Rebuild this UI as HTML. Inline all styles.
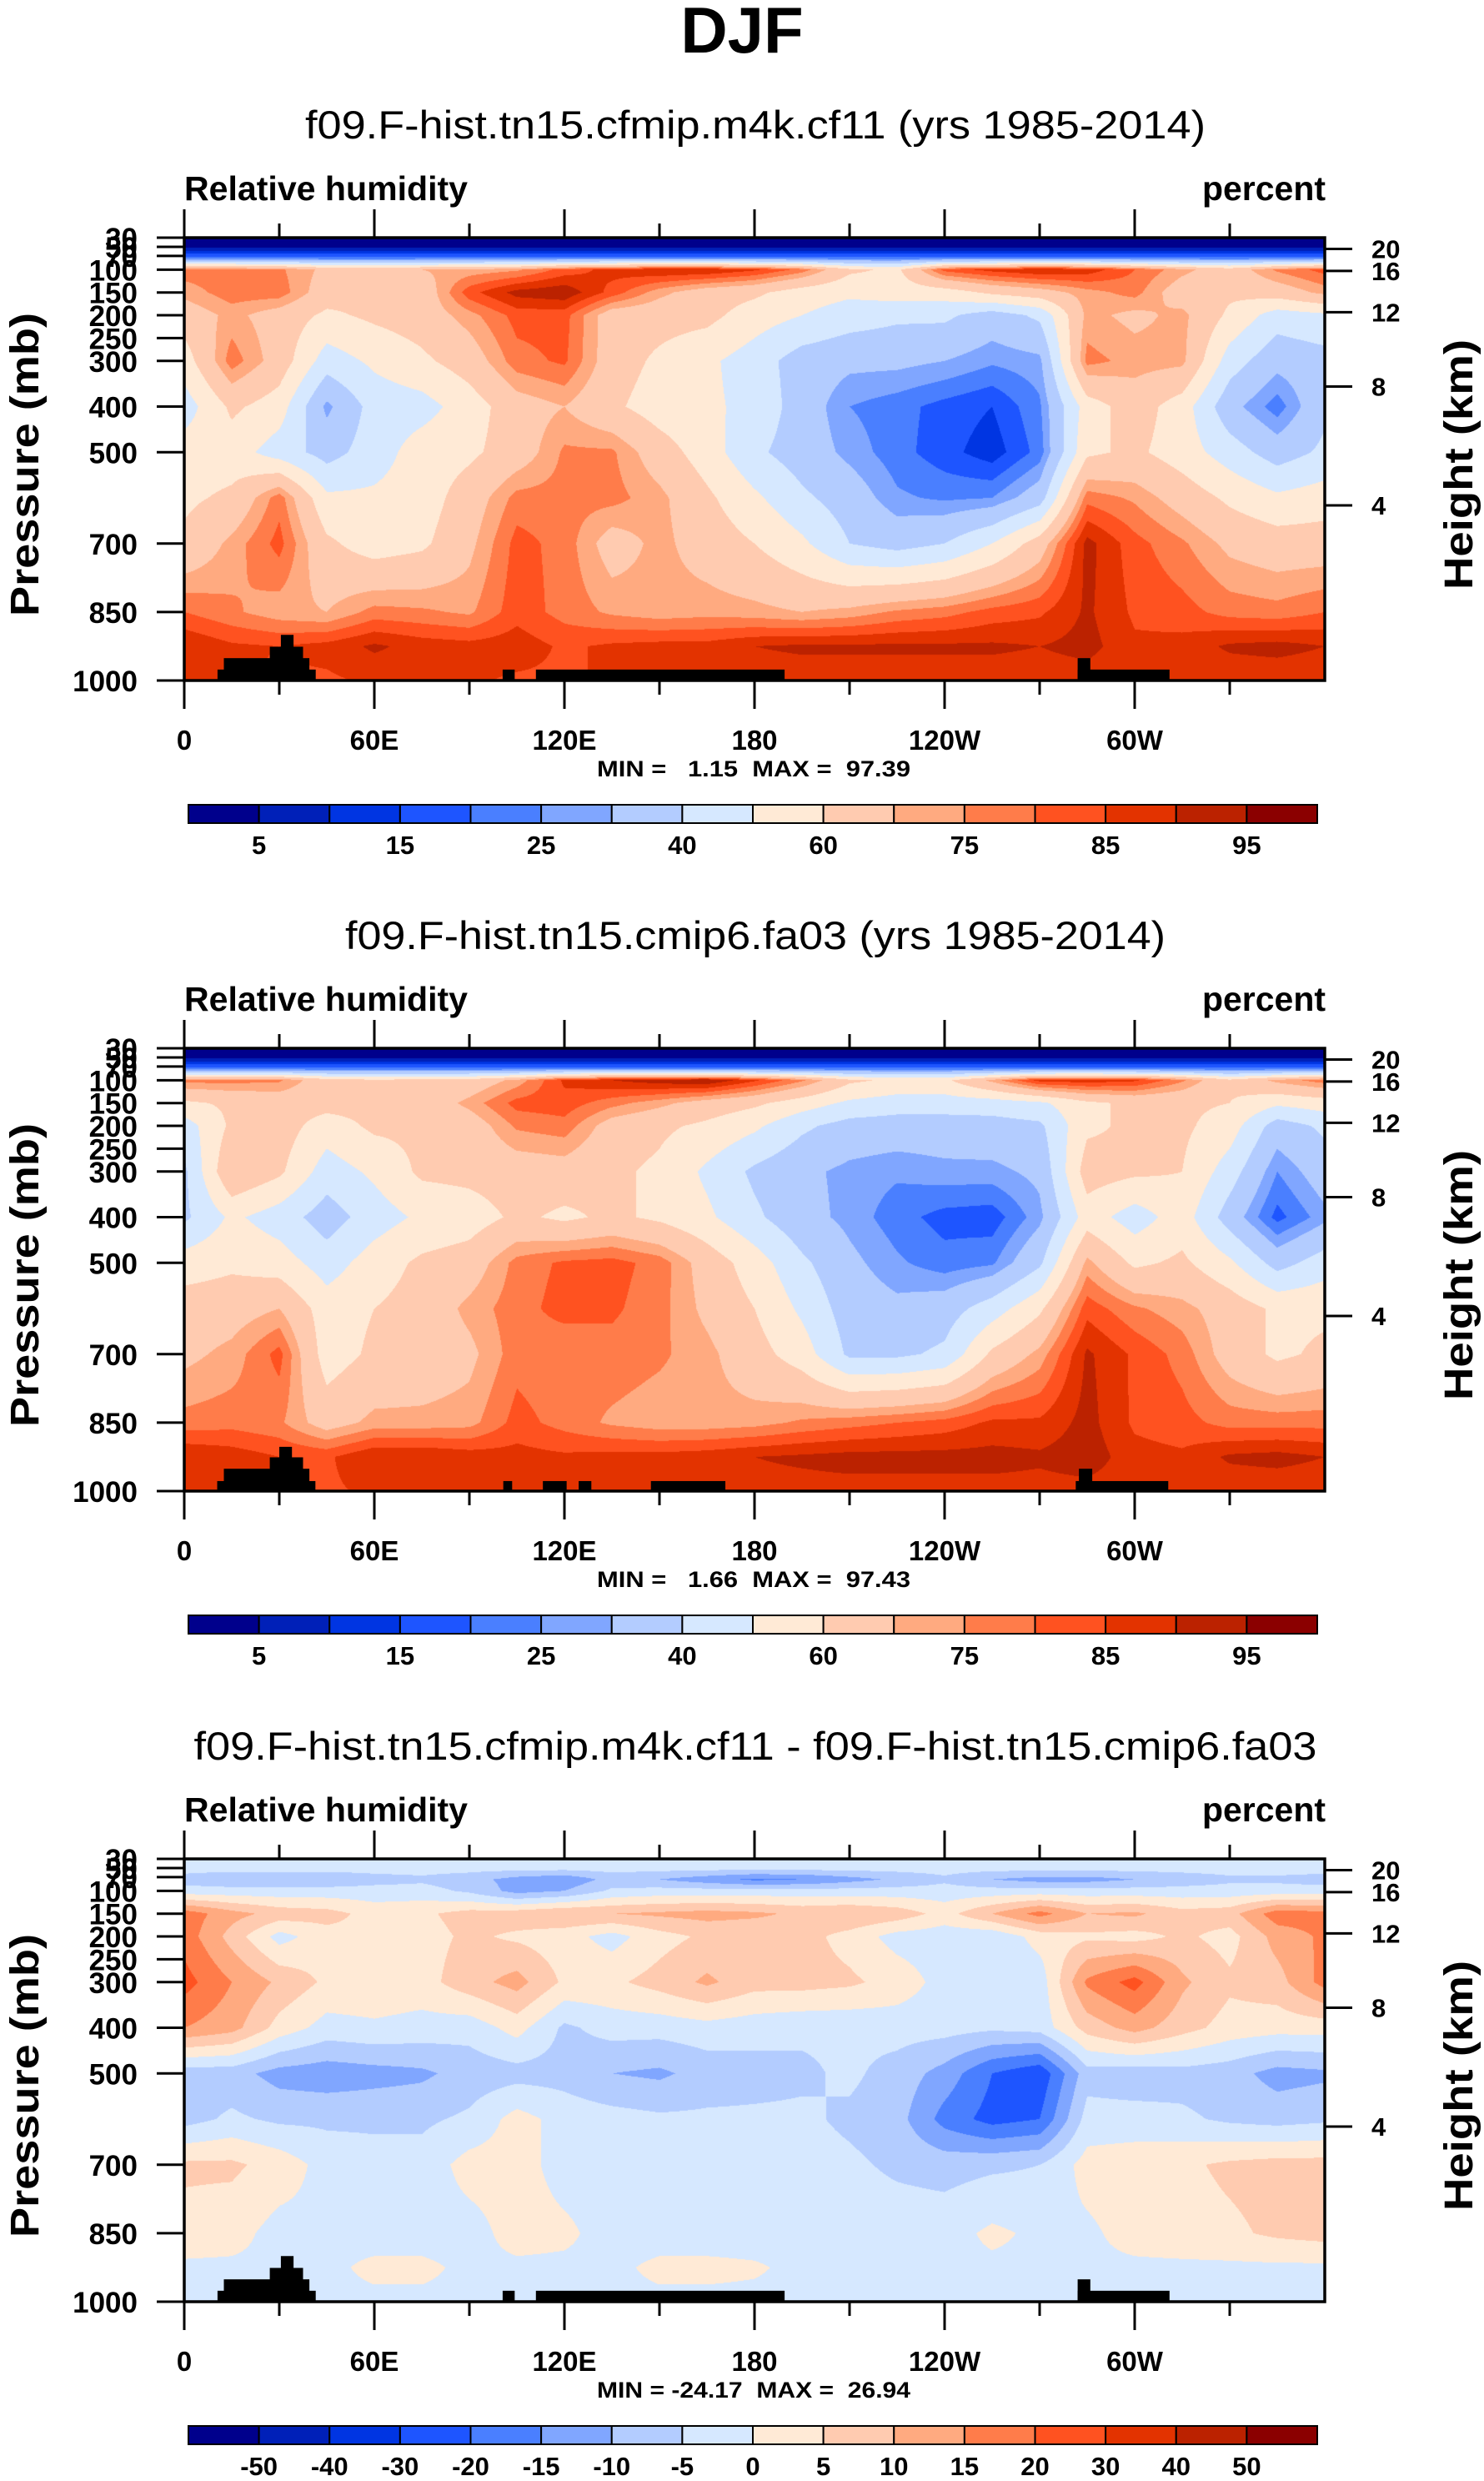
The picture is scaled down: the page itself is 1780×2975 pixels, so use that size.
<!DOCTYPE html>
<html><head><meta charset="utf-8"><title>DJF Relative humidity</title>
<style>
html,body{margin:0;padding:0;background:#fff;}
#wrap{position:relative;width:1780px;height:2975px;overflow:hidden;background:#fff;}
canvas{position:absolute;}
svg{position:absolute;left:0;top:0;}
text{font-family:"Liberation Sans",Arial,sans-serif;fill:#000;}
.b{font-weight:bold;}
</style></head>
<body>
<div id="wrap">
<canvas id="c0" width="1368" height="531" style="left:221px;top:285px"></canvas>
<canvas id="c1" width="1368" height="531" style="left:221px;top:1257px"></canvas>
<canvas id="c2" width="1368" height="531" style="left:221px;top:2229px"></canvas>
<svg id="svg" width="1780" height="2975" xmlns="http://www.w3.org/2000/svg">
<text x="890" y="63" text-anchor="middle" class="b" font-size="78">DJF</text>
</svg>
</div>
<script>
// ---- data ----
const lons = [0,15,30,45,60,75,90,105,120,135,150,165,180,195,210,225,240,255,270,285,300,315,330,345,360];
const plev = [30,50,75,100,150,200,300,400,500,600,700,850,925,1000];
const rhLevels = [5,10,15,20,25,30,40,50,60,70,75,80,85,90,95];
const rhTickLabels = ["5","15","25","40","60","75","85","95"];
const diffLevels = [-50,-40,-30,-20,-15,-10,-5,0,5,10,15,20,30,40,50];
const diffTickLabels = ["-50","-40","-30","-20","-15","-10","-5","0","5","10","15","20","30","40","50"];
const colors = ["#00008c","#0020b8","#0035e2","#1e55ff","#4a7fff","#80a6ff","#b3ccff","#d6e8ff","#ffead6","#ffcbb0","#ffaa80","#ff7c4a","#ff5220","#e33300","#bb2200","#8b0000"];
const pTicks = [30,50,70,100,150,200,250,300,400,500,700,850,1000];
const kmTicks = [20,16,12,8,4];
const lonTicks = [0,60,120,180,240,300];
const lonTickLabels = ["0","60E","120E","180","120W","60W"];

const rh1 = [
[1,1,1,1,1,1,1,1,1,1,1,1,1,1,1,1,1,1,1,1,1,1,1,1,1],
[4,4,4,4,4,4,4,4,4,4,4,4,4,4,4,4,4,4,4,4,4,4,4,4,4],
[22,22,22,22,22,22,22,22,22,22,22,22,22,22,22,22,22,22,22,22,22,22,22,22,22],
[78,78,76,68,66,70,72,74,82,87,90,90,86,78,62,58,82,87,90,88,80,72,65,76,82],
[72,78,78,65,62,64,83,92,94,83,72,65,62,55,52,55,55,62,66,73,77,65,62,65,72],
[65,72,66,58,62,65,73,82,82,65,64,63,55,50,45,42,42,35,42,72,68,72,58,45,48],
[55,78,66,45,52,58,65,78,81,65,58,52,45,35,32,32,30,26,28,77,73,72,45,33,36],
[45,62,55,28,44,46,55,66,70,62,55,52,47,35,25,22,18,15,24,55,65,55,33,22,38],
[55,55,45,36,45,55,58,65,76,76,65,55,42,35,28,22,17,12,22,58,62,55,45,35,42],
[58,62,78,52,52,55,65,77,77,77,72,62,52,42,35,26,24,25,35,78,74,66,58,52,55],
[62,72,82,62,55,58,68,82,78,66,72,66,60,52,40,36,40,50,65,92,82,76,68,65,65],
[80,76,72,70,77,76,74,83,78,74,72,73,72,70,72,76,78,82,84,91,84,82,78,77,80],
[90,86,85,87,91,88,87,88,84,86,87,87,90,91,91,91,91,91,90,92,86,87,91,92,90],
[86,86,84,84,86,86,86,84,84,86,86,86,87,87,87,87,87,87,87,87,86,86,86,86,86]];

const rh2 = [
[1,1,1,1,1,1,1,1,1,1,1,1,1,1,1,1,1,1,1,1,1,1,1,1,1],
[4,4,4,4,4,4,4,4,4,4,4,4,4,4,4,4,4,4,4,4,4,4,4,4,4],
[22,22,22,22,22,22,22,22,22,22,22,22,22,22,22,22,22,22,22,22,22,22,22,22,22],
[77,77,76,64,62,63,64,72,86,90,93,95,86,76,62,58,58,72,87,88,86,76,62,72,78],
[58,62,64,64,63,64,72,82,83,77,72,66,62,55,48,45,45,45,48,58,62,62,60,52,55],
[45,62,65,55,62,62,65,76,78,66,62,58,52,42,36,35,35,36,38,58,62,62,55,35,42],
[38,70,62,45,52,62,63,65,66,62,58,48,38,32,28,26,28,28,32,65,62,60,45,25,35],
[38,52,45,35,45,52,55,62,58,62,58,52,42,33,28,22,18,17,28,55,45,55,35,18,28],
[55,58,55,45,55,62,65,77,81,82,78,66,55,42,32,26,22,24,38,72,58,62,52,36,45],
[65,66,70,55,60,64,72,78,82,81,77,68,60,48,35,32,35,45,58,83,76,72,66,58,58],
[68,72,82,55,62,64,68,78,76,78,76,72,64,55,38,38,42,62,72,91,84,78,66,58,62],
[77,78,76,66,72,72,73,82,78,74,72,72,73,76,78,80,82,86,86,92,84,82,78,78,78],
[90,88,85,84,90,90,88,87,86,87,87,88,90,91,92,92,92,92,91,93,87,86,91,92,90],
[86,86,84,84,86,86,86,86,87,88,88,88,88,88,88,88,88,88,88,88,87,86,86,86,86]];

const drh = [
[-2,-2,-2,-2,-2,-2,-2,-2,-2,-2,-2,-2,-2,-2,-2,-2,-2,-2,-2,-2,-2,-2,-2,-2,-2],
[-3,-3,-3,-3,-3,-3,-3,-3,-3,-3,-3,-3,-3,-3,-3,-3,-3,-3,-3,-3,-3,-3,-3,-3,-3],
[-7,-9,-9,-9,-7,-6,-8,-12,-14,-8,-10,-13,-16,-15,-12,-9,-6,-10,-12,-12,-10,-8,-6,-6,-7],
[-3,-3,-3,-3,-3,-3,-6,-12,-10,-4,-3,-3,-3,-3,-3,-3,-3,-3,-3,-3,-3,-3,-3,-3,-3],
[18,12,8,7,3,4,7,8,10,10,11,12,11,9,10,8,3,10,17,10,11,7,8,18,17],
[18,8,-2,3,4,3,6,4,2,-2,3,6,6,7,3,-2,-3,-4,2,4,3,6,3,12,16],
[22,15,9,4,4,3,8,12,4,4,7,11,7,7,6,3,-2,-5,-3,16,22,11,6,8,17],
[15,12,3,-2,-1,-2,-3,2,-6,-3,-3,-2,-3,-4,-4,-3,-3,-4,-3,7,12,7,3,2,2],
[-8,-8,-12,-13,-12,-11,-8,-7,-7,-10,-11,-8,-7,-6,-4,-7,-12,-20,-24,-7,-8,-7,-8,-12,-11],
[-7,-4,-6,-6,-6,-6,-4,2,-2,-3,-4,-4,-4,-4,-6,-8,-17,-22,-20,-3,-3,-4,-6,-7,-6],
[6,6,3,-2,-3,-3,2,2,-2,-2,-3,-3,-3,-3,-4,-6,-7,-6,-5,2,3,4,6,7,7],
[3,2,-2,-1,-2,-2,-2,2,1,-2,-2,-2,-2,-2,-2,-2,-2,1,-1,-1,2,3,4,6,7],
[-1,-1,-1,-1,1,1,-1,-1,-1,-1,1,1,0.5,-1,-1,-1,-1,-1,-1,-1,-1,-1,-1,-1,-1],
[-1,-1,-1,-1,-1,-1,-1,-1,-1,-1,-1,-1,-1,-1,-1,-1,-1,-1,-1,-1,-1,-1,-1,-1,-1]];

// topography blocks: [lonStart, lonEnd, pressureTop]
const topoA = [[10.5,41.5,976],[12.5,30,951],[27,37,926],[30.5,34.5,900],[34.5,37.5,926],[34.5,39.5,951],[100.5,104.3,976],[111,189.5,976],[282,311,976],[282,286,951]];
const topoB = [[10.4,41.4,978],[12.5,30,951],[27,37,926],[30,34,903],[34,37.5,926],[34,39.5,951],[100.7,103.5,978],[113.2,120.7,978],[124.5,128.5,978],[147.3,170.8,978],[281.4,310.6,978],[282.4,286.6,951]];

const minmax = ["MIN =   1.15  MAX =  97.39","MIN =   1.66  MAX =  97.43","MIN = -24.17  MAX =  26.94"];
const titles = ["f09.F-hist.tn15.cfmip.m4k.cf11 (yrs 1985-2014)","f09.F-hist.tn15.cmip6.fa03 (yrs 1985-2014)","f09.F-hist.tn15.cfmip.m4k.cf11 - f09.F-hist.tn15.cmip6.fa03"];
const titleLens = [1080,984,1347];

// ---- layout ----
const X0=221, W=1368, H=531, DY=972, TOP0=285;
function xOf(lon){return X0 + lon/360*W;}
function yOf(p,top){return top + (p-30)/970*H;}
function kmToP(z){ z*=1000; if(z<=11000) return 1013.25*Math.pow(1-2.25577e-5*z,5.25588); return 226.32*Math.exp(-(z-11000)/6341.6);}
function hex(c){return [parseInt(c.substr(1,2),16),parseInt(c.substr(3,2),16),parseInt(c.substr(5,2),16)];}
const rgb = colors.map(hex);

function drawField(cid, grid, levels){
  const cv=document.getElementById(cid), ctx=cv.getContext('2d');
  const img=ctx.createImageData(W,H), d=img.data;
  const rowI=new Int32Array(H), rowF=new Float32Array(H);
  for(let y=0;y<H;y++){
    const p=30+(y+0.5)/H*970; let i=0;
    while(i<plev.length-2 && p>plev[i+1]) i++;
    rowI[y]=i; rowF[y]=Math.min(1,Math.max(0,(p-plev[i])/(plev[i+1]-plev[i])));
  }
  for(let y=0;y<H;y++){
    const i=rowI[y], f=rowF[y], r0=grid[i], r1=grid[i+1];
    for(let x=0;x<W;x++){
      const lon=(x+0.5)/W*360, jf=lon/15; let j=Math.floor(jf); if(j>23) j=23; const g=jf-j;
      const a=r0[j]*(1-g)+r0[j+1]*g, b=r1[j]*(1-g)+r1[j+1]*g;
      const v=a*(1-f)+b*f;
      let k=0; while(k<levels.length && v>=levels[k]) k++;
      const c=rgb[k], o=(y*W+x)*4;
      d[o]=c[0]; d[o+1]=c[1]; d[o+2]=c[2]; d[o+3]=255;
    }
  }
  ctx.putImageData(img,0,0);
}
drawField('c0', rh1, rhLevels);
drawField('c1', rh2, rhLevels);
drawField('c2', drh, diffLevels);

const svg=document.getElementById('svg'), NS='http://www.w3.org/2000/svg';
function mk(tag, attrs, parent){const e=document.createElementNS(NS,tag); for(const k in attrs) e.setAttribute(k,attrs[k]); (parent||svg).appendChild(e); return e;}
function txt(s, attrs, parent){const e=mk('text',attrs,parent); e.textContent=s; return e;}

for(let i=0;i<3;i++){
  const top=TOP0+i*DY, off=i*DY;
  const g=mk('g',{});
  
  
  let t=txt(titles[i],{x:906,y:166+off,'text-anchor':'middle','font-size':47,textLength:titleLens[i],lengthAdjust:'spacingAndGlyphs'},g);
  
  
  t=txt('Relative humidity',{x:221,y:240+off,'font-size':41,'class':'b',textLength:340,lengthAdjust:'spacingAndGlyphs'},g);
  
  
  t=txt('percent',{x:1590,y:240+off,'font-size':41,'class':'b','text-anchor':'end',textLength:148,lengthAdjust:'spacingAndGlyphs'},g);
  
  
  const topo = (i===1)?topoB:topoA;
  topo.forEach(b=>{
    const r=mk('rect',{x:xOf(b[0]),y:yOf(b[2],top),width:xOf(b[1])-xOf(b[0]),height:yOf(1000,top)-yOf(b[2],top),fill:'#000'},g);
    
    
  });
  const fr=mk('rect',{x:X0,y:top,width:W,height:H,fill:'none',stroke:'#000','stroke-width':3.5},g);
  
  
  for(let lon=0;lon<=330;lon+=30){
    const x=xOf(lon), major=(lon%60===0);
    const len=major?34:17;
    mk('line',{x1:x,x2:x,y1:top,y2:top-len,stroke:'#000','stroke-width':3},g);
    mk('line',{x1:x,x2:x,y1:top+H,y2:top+H+len,stroke:'#000','stroke-width':3},g);
  }
  lonTicks.forEach((lon,k)=>{
    const l=txt(lonTickLabels[k],{x:xOf(lon),y:top+614,'font-size':33,'class':'b','text-anchor':'middle'},g);
    
    
  });
  pTicks.forEach(p=>{
    const y=yOf(p,top);
    mk('line',{x1:188,x2:X0,y1:y,y2:y,stroke:'#000','stroke-width':3},g);
    const l=txt(String(p),{x:165,y:y+13,'font-size':35,'class':'b','text-anchor':'end'},g);
    
    
  });
  kmTicks.forEach(z=>{
    const y=yOf(kmToP(z),top);
    mk('line',{x1:X0+W,x2:1622,y1:y,y2:y,stroke:'#000','stroke-width':3},g);
    const l=txt(String(z),{x:1645,y:y+11,'font-size':31,'class':'b'},g);
    
    
  });
  t=txt('Pressure (mb)',{x:0,y:0,'font-size':48,'class':'b','text-anchor':'middle',textLength:364,lengthAdjust:'spacingAndGlyphs',transform:'translate(46,'+(557+off)+') rotate(-90)'},g);
  
  
  t=txt('Height (km)',{x:0,y:0,'font-size':48,'class':'b','text-anchor':'middle',textLength:300,lengthAdjust:'spacingAndGlyphs',transform:'translate(1766,'+(557+off)+') rotate(-90)'},g);
  
  
  t=txt(minmax[i],{x:904,y:931+off,'font-size':27,'class':'b','text-anchor':'middle',textLength:376,lengthAdjust:'spacingAndGlyphs','xml:space':'preserve'},g);
  
  
  t.style.whiteSpace='pre';
  const cbx=226, cbw=(1580-226)/16, cby=965+off, cbh=22;
  colors.forEach((c,k)=>{
    const r=mk('rect',{x:cbx+k*cbw,y:cby,width:cbw,height:cbh,fill:c,stroke:'#000','stroke-width':2},g);
    
    
  });
  const labs = (i===2)?diffTickLabels:rhTickLabels;
  labs.forEach((s,k)=>{
    const bIdx = (i===2)? (k+1) : (2*k+1);
    const l=txt(s,{x:cbx+bIdx*cbw,y:1024+off,'font-size':31,'class':'b','text-anchor':'middle'},g);
    
    
  });
}
</script>
</body></html>
